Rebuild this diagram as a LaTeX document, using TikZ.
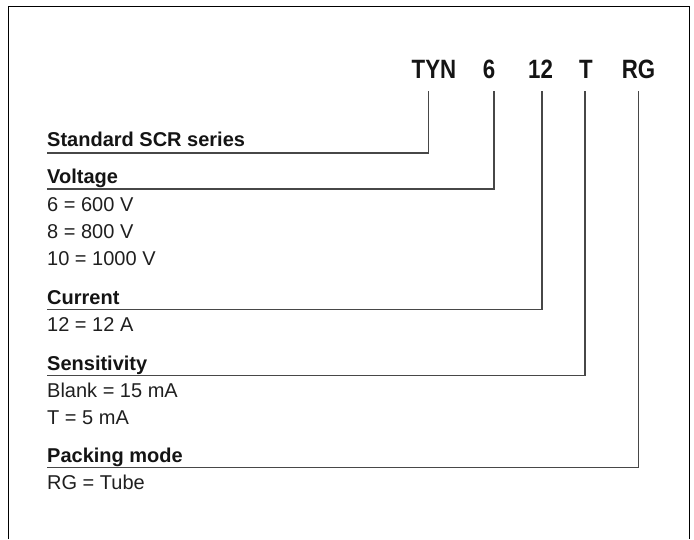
\documentclass[tikz,border=0pt]{standalone}
\usepackage{fontspec}
\setmainfont{Liberation Sans}
\begin{document}
\begin{tikzpicture}[x=1pt,y=-1pt,
  hdr/.style={inner sep=0pt,anchor=base west,font=\fontsize{20}{24}\selectfont\bfseries,text=black!92},
  val/.style={inner sep=0pt,anchor=base west,font=\fontsize{20}{24}\selectfont,text=black!88},
  code/.style={inner sep=0pt,anchor=base,font=\fontsize{26.5}{30}\selectfont\bfseries,text=black!92},
  lead/.style={draw=black!72,line width=1.2pt},
  frame/.style={draw=black,line width=1.3pt}]
\useasboundingbox (0,0) rectangle (694,539);
% frame
\coordinate (fbl) at (8.5,539);
\coordinate (ftl) at (8.5,6.7);
\coordinate (ftr) at (689.3,6.7);
\coordinate (fbr) at (689.3,539);
\draw[frame] (fbl) -- (ftl) -- (ftr) -- (fbr);
% cut-off title fragment
\node[inner sep=0pt,anchor=base,font=\fontsize{20}{24}\selectfont\bfseries] (ttl) at (193,-4.5) {g};
% code labels
\node[code] (tyn) at (434,78.5) {\scalebox{0.84}[1]{TYN}};
\node[code] (c6)  at (489,78.5) {\scalebox{0.84}[1]{6}};
\node[code] (c12) at (540.5,78.5) {\scalebox{0.84}[1]{12}};
\node[code] (cT)  at (586,78.5) {\scalebox{0.84}[1]{T}};
\node[code] (cRG) at (638.5,78.5) {\scalebox{0.84}[1]{RG}};
% headers and values
\node[hdr] (std) at (47,146) {Standard SCR series};
\node[hdr] (volt) at (47,183.5) {Voltage};
\node[val] (v6) at (47,211.4) {6 = 600 V};
\node[val] (v8) at (47,238.4) {8 = 800 V};
\node[val] (v10) at (47,265.4) {10 = 1000 V};
\node[hdr] (cur) at (47,304.5) {Current};
\node[val] (i12) at (47,331.7) {12 = 12 A};
\node[hdr] (sens) at (47,370) {Sensitivity};
\node[val] (sb) at (47,397.7) {Blank = 15 mA};
\node[val] (st) at (47,424.7) {T = 5 mA};
\node[hdr] (pack) at (47,462) {Packing mode};
\node[val] (prg) at (47,489.5) {RG = Tube};
% leader coordinates
\coordinate (l1) at (47,153);
\coordinate (t1) at (428.3,91);
\coordinate (l2) at (47,189);
\coordinate (t2) at (494,91);
\coordinate (l3) at (47,309.3);
\coordinate (t3) at (542,91);
\coordinate (l4) at (47,375.3);
\coordinate (t4) at (585,91);
\coordinate (l5) at (47,467.3);
\coordinate (t5) at (638.5,91);
\draw[lead] (l1) -| (t1);
\draw[lead] (l2) -| (t2);
\draw[lead] (l3) -| (t3);
\draw[lead] (l4) -| (t4);
\draw[lead] (l5) -| (t5);
\end{tikzpicture}
\end{document}
